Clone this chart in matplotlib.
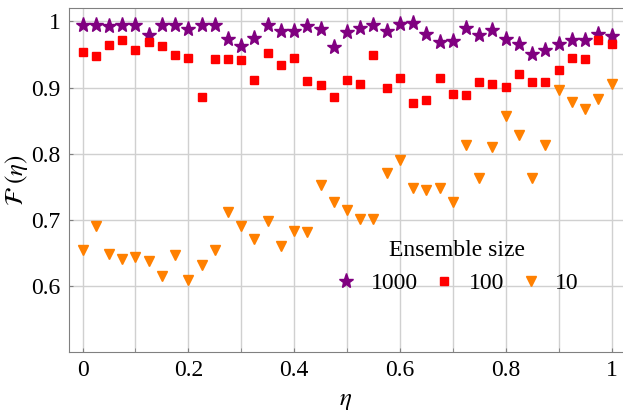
import numpy as np
import matplotlib
matplotlib.use("Agg")
import matplotlib.pyplot as plt

plt.rcParams["font.family"] = ["Liberation Serif", "DejaVu Serif"]
plt.rcParams["mathtext.fontset"] = "stix"

# 41 values of eta, 0 to 1 in steps of 0.025
eta = np.linspace(0, 1, 41)

fid_1000 = [0.994, 0.995, 0.993, 0.994, 0.994, 0.979, 0.994, 0.994, 0.988, 0.994,
            0.994, 0.973, 0.963, 0.974, 0.994, 0.985, 0.986, 0.993, 0.989, 0.961,
            0.983, 0.990, 0.994, 0.985, 0.996, 0.998, 0.980, 0.968, 0.970, 0.990,
            0.979, 0.987, 0.973, 0.966, 0.951, 0.957, 0.966, 0.971, 0.971, 0.980,
            0.978]

fid_100 = [0.953, 0.947, 0.964, 0.971, 0.956, 0.968, 0.962, 0.949, 0.944, 0.885,
           0.943, 0.943, 0.941, 0.911, 0.952, 0.934, 0.944, 0.910, 0.904, 0.885,
           0.912, 0.905, 0.949, 0.900, 0.914, 0.877, 0.881, 0.915, 0.890, 0.888,
           0.908, 0.905, 0.901, 0.921, 0.908, 0.909, 0.927, 0.944, 0.943, 0.972,
           0.965]

fid_10 = [0.655, 0.691, 0.649, 0.642, 0.644, 0.639, 0.615, 0.647, 0.610, 0.633,
          0.655, 0.712, 0.691, 0.671, 0.698, 0.661, 0.684, 0.682, 0.753, 0.728,
          0.715, 0.701, 0.702, 0.771, 0.790, 0.748, 0.745, 0.748, 0.727, 0.813,
          0.763, 0.810, 0.857, 0.828, 0.763, 0.814, 0.896, 0.878, 0.867, 0.883,
          0.905]

labels = ["1000", "100", "10"]

fig = plt.figure(figsize=(6.23, 4.13), dpi=100)
ax = fig.add_axes([0.1108, 0.1477, 0.8892, 0.833])

ax.plot(eta, fid_1000, "*", color="#800080", markersize=11, linestyle="none", label=labels[0])
ax.plot(eta, fid_100, "s", color="#ff0000", markersize=6, linestyle="none", label=labels[1])
ax.plot(eta, fid_10, "v", color="#ff8000", markersize=7, linestyle="none", label=labels[2])

ax.set_xlim(-0.0255, 1.0217)
ax.set_ylim(0.501, 1.02)
ax.set_xticks(np.arange(0, 1.01, 0.2))
ax.set_xticklabels(["0", "0.2", "0.4", "0.6", "0.8", "1"])
ax.set_xticks(np.arange(0, 1.01, 0.1), minor=True)
ax.set_yticks([0.6, 0.7, 0.8, 0.9, 1.0])
ax.set_yticklabels(["0.6", "0.7", "0.8", "0.9", "1"])

ax.grid(True, which="both", axis="x", color="#d0d0d0", linewidth=1)
ax.grid(True, which="major", axis="y", color="#d0d0d0", linewidth=1)
ax.set_axisbelow(True)

ax.tick_params(which="both", direction="in", length=3, color="#808080",
               labelsize=17, pad=6)
for s in ax.spines.values():
    s.set_color("#808080")
ax.spines["right"].set_visible(False)

ax.set_xlabel(r"$\eta$", fontsize=18, labelpad=6)
ax.set_ylabel(r"$\mathcal{F}\ (\eta)$", fontsize=18, labelpad=1)

leg = ax.legend(title="Ensemble size", ncol=3, frameon=False, fontsize=17,
                title_fontsize=17, loc="center", bbox_to_anchor=(0.7, 0.248),
                handlelength=1.0, handletextpad=0.55, columnspacing=0.6)

fig.savefig("out.png", dpi=100)
